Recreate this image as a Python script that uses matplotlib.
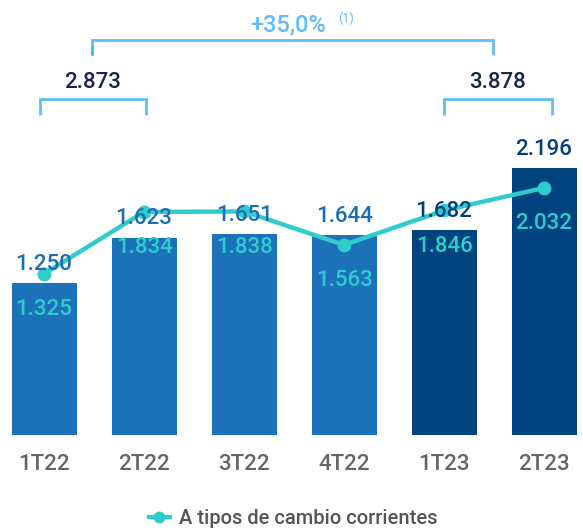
import matplotlib
matplotlib.use("Agg")
import matplotlib.pyplot as plt
from matplotlib.lines import Line2D

categories = ["1T22", "2T22", "3T22", "4T22", "1T23", "2T23"]
bar_values = [1.250, 1.623, 1.651, 1.644, 1.682, 2.196]
line_values = [1.325, 1.834, 1.838, 1.563, 1.846, 2.032]
bar_labels = ["1.250", "1.623", "1.651", "1.644", "1.682", "2.196"]
line_labels = ["1.325", "1.834", "1.838", "1.563", "1.846", "2.032"]
sum_2022_h1 = "2.873"
sum_2023_h1 = "3.878"
growth_label = "+35,0%"
legend_label = "A tipos de cambio corrientes"

FONT = ["Roboto", "DejaVu Sans"]
plt.rcParams["font.family"] = FONT

c_bar22 = "#1b72b8"
c_bar23 = "#00447f"
c_lab22 = "#1c6db4"
c_lab23 = "#003e7e"
c_line = "#30cccc"
c_brk = "#62bdf6"
c_sum = "#14284b"
c_tick = "#666666"

fig = plt.figure(figsize=(5.83, 5.32), dpi=100)
ax = fig.add_axes([0, 0, 1, 1])
ax.set_xlim(-0.44, 5.39)
ax.set_ylim(-0.798, 3.577)
ax.axis("off")

x = list(range(len(categories)))
bar_colors = [c_bar22] * 4 + [c_bar23] * 2
lab_colors = [c_lab22] * 4 + [c_lab23] * 2
ax.bar(x, bar_values, width=0.65, color=bar_colors, zorder=1)
ax.plot(x, line_values, color=c_line, lw=3.2, marker="o", ms=9, zorder=2)

NUM = dict(fontsize=16, fontweight="medium")
for i in x:
    ax.text(i, bar_values[i] + 0.155, bar_labels[i], ha="center", va="center",
            color=lab_colors[i], zorder=3, **NUM)
    ax.text(i, line_values[i] - 0.295, line_labels[i], ha="center", va="center",
            color=c_line, zorder=3, **NUM)
    ax.text(i, -0.247, categories[i], ha="center", va="center",
            fontsize=16, color=c_tick, fontweight="medium")

# top bracket
ax.plot([0.48, 0.48, 4.49, 4.49], [3.125, 3.25, 3.25, 3.125], color=c_brk, lw=2,
        solid_capstyle="butt", solid_joinstyle="miter")
ax.plot([0.48, 0.48], [3.125, 3.21], color=c_line, lw=2, solid_capstyle="butt")
ax.text(2.44, 3.37, growth_label, ha="center", va="center", fontsize=17, color=c_brk,
        fontweight="medium")
ax.text(3.02, 3.43, "(1)", ha="center", va="center", fontsize=9, color=c_brk)

# small brackets
for (xa, xb, lab) in [(-0.045, 1.02, sum_2022_h1), (4.0, 5.08, sum_2023_h1)]:
    ax.plot([xa, xa, xb, xb], [2.63, 2.765, 2.765, 2.63], color=c_brk, lw=2,
            solid_capstyle="butt", solid_joinstyle="miter")
    ax.text((xa + xb) / 2, 2.90, lab, ha="center", va="center", color=c_sum, **NUM)

handle = Line2D([0], [0], color=c_line, lw=3, marker="o", ms=7.5)
leg = fig.legend([handle], [legend_label], loc="center", bbox_to_anchor=(0.503, 0.026),
                 frameon=False, fontsize=14.5, handlelength=1.0, handletextpad=0.45,
                 prop=dict(size=14.5, weight="medium"))
for t in leg.get_texts():
    t.set_color("#555555")

fig.savefig("out.png", dpi=100)
